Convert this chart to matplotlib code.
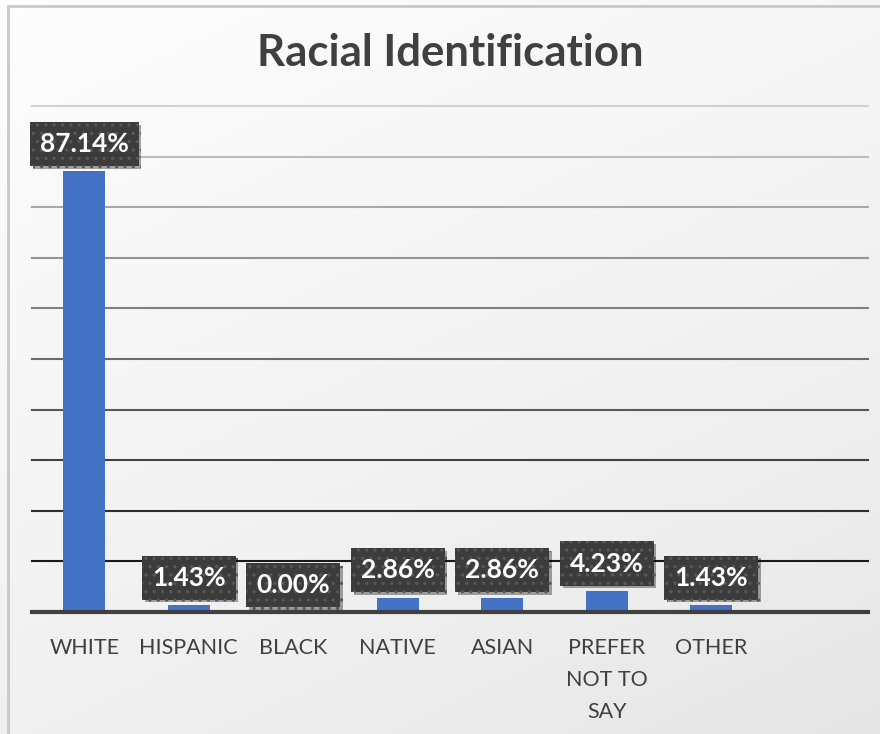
import numpy as np
import matplotlib.pyplot as plt
import matplotlib.patheffects as pe
from matplotlib.patches import Rectangle

plt.rcParams['font.family'] = ['Lato', 'DejaVu Sans']
plt.rcParams['hatch.linewidth'] = 1.2

# Survey data
categories = ["WHITE", "HISPANIC", "BLACK", "NATIVE", "ASIAN", "PREFER\nNOT TO\nSAY", "OTHER"]
percentages = [87.14, 1.43, 0.00, 2.86, 2.86, 4.23, 1.43]
y_ticks = np.arange(0, 101, 10)

fig = plt.figure(figsize=(8.8, 7.34), dpi=100)

# Soft diagonal gradient behind the chart
bg = fig.add_axes([0, 0, 1, 1], zorder=-10)
gx, gy = np.meshgrid(np.linspace(0, 1, 200), np.linspace(0, 1, 200))
grad = 0.35 * gx + 0.65 * gy
bg.imshow(grad, cmap='Greys', vmin=-0.1, vmax=6.0, aspect='auto',
          extent=[0, 1, 0, 1], origin='upper')
bg.add_patch(Rectangle((8 / 880, -0.1), 1.2, 1 - 6 / 734 + 0.1, transform=bg.transAxes,
                       fill=False, edgecolor='#c8c8c8', lw=2))
bg.set_xlim(0, 1)
bg.set_ylim(0, 1)
bg.axis('off')

ax = fig.add_axes([32 / 880, 1 - 612 / 734, 836 / 880, 506 / 734])
ax.set_facecolor('none')

x = np.arange(len(categories))
ax.bar(x, percentages, width=0.4, color='#4472C4', zorder=3)

# Gridlines get darker toward the bottom
grays = np.linspace(0.10, 0.82, len(y_ticks) - 1)
for yv, level in zip(y_ticks[1:], grays):
    ax.axhline(yv, color=str(level), lw=1.5, zorder=1, clip_on=False)
ax.axhline(0, color='#404040', lw=3, zorder=4, clip_on=False)

for i, v in enumerate(percentages):
    ann = ax.annotate(f"{v:.2f}%", (i, v), xytext=(0, 19.5), textcoords='offset points',
                      ha='center', va='center', color='white', fontsize=19,
                      fontweight='bold', zorder=6,
                      bbox=dict(boxstyle='square,pad=0.38', fc='#3c3c3c',
                                ec='#575757', lw=0, hatch='..'))
    ann.get_bbox_patch().set_path_effects(
        [pe.withSimplePatchShadow(offset=(2, -2), shadow_rgbFace='black', alpha=0.35),
         pe.Normal()])

ax.set_xlim(-0.5, 7.5)
ax.set_ylim(0, 100)
ax.set_xticks(x)
ax.set_xticklabels(categories, fontsize=15.5, color='#404040', linespacing=1.75)
ax.tick_params(axis='x', length=0, pad=19)
ax.set_yticks([])
for s in ax.spines.values():
    s.set_visible(False)

fig.text(450 / 880, 1 - 53 / 734, "Racial Identification", ha='center', va='center',
         fontsize=31.5, fontweight='bold', color='#404040')

fig.savefig('out.png', dpi=100)
